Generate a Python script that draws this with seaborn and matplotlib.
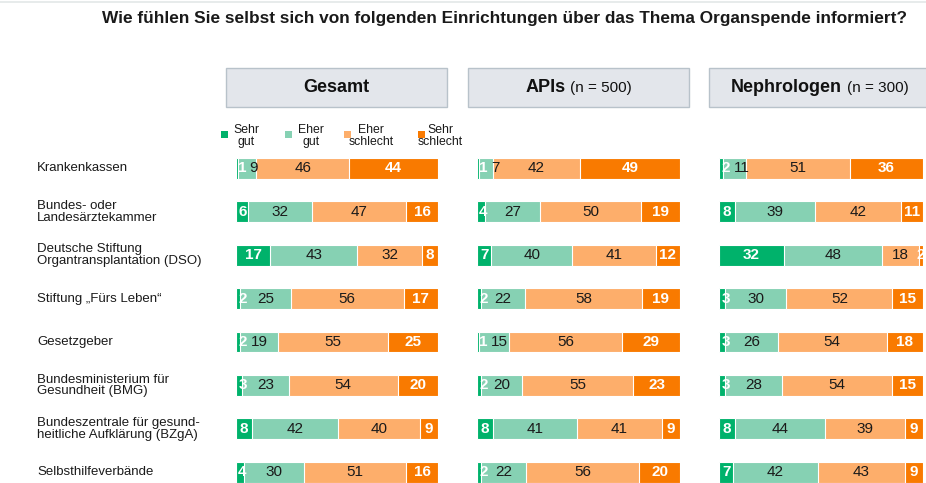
import numpy as np
import matplotlib
matplotlib.use("Agg")
import matplotlib.pyplot as plt
import matplotlib.transforms as mtransforms
from matplotlib.patches import Rectangle
from matplotlib.lines import Line2D
import seaborn as sns

# Daten
institutions = [
    "Krankenkassen",
    "Bundes- oder\nLandesärztekammer",
    "Deutsche Stiftung\nOrgantransplantation (DSO)",
    "Stiftung \u201eFürs Leben\u201c",
    "Gesetzgeber",
    "Bundesministerium für\nGesundheit (BMG)",
    "Bundeszentrale für gesund-\nheitliche Aufklärung (BZgA)",
    "Selbsthilfeverbände",
]
categories = ["Sehr\ngut", "Eher\ngut", "Eher\nschlecht", "Sehr\nschlecht"]

gesamt_sehr_gut = [1, 6, 17, 2, 2, 3, 8, 4]
gesamt_eher_gut = [9, 32, 43, 25, 19, 23, 42, 30]
gesamt_eher_schlecht = [46, 47, 32, 56, 55, 54, 40, 51]
gesamt_sehr_schlecht = [44, 16, 8, 17, 25, 20, 9, 16]

apis_sehr_gut = [1, 4, 7, 2, 1, 2, 8, 2]
apis_eher_gut = [7, 27, 40, 22, 15, 20, 41, 22]
apis_eher_schlecht = [42, 50, 41, 58, 56, 55, 41, 56]
apis_sehr_schlecht = [49, 19, 12, 19, 29, 23, 9, 20]

neph_sehr_gut = [2, 8, 32, 3, 3, 3, 8, 7]
neph_eher_gut = [11, 39, 48, 30, 26, 28, 44, 42]
neph_eher_schlecht = [51, 42, 18, 52, 54, 54, 39, 43]
neph_sehr_schlecht = [36, 11, 2, 15, 18, 15, 9, 9]

panels = [
    ("Gesamt", "", [gesamt_sehr_gut, gesamt_eher_gut, gesamt_eher_schlecht, gesamt_sehr_schlecht]),
    ("APIs", "(n = 500)", [apis_sehr_gut, apis_eher_gut, apis_eher_schlecht, apis_sehr_schlecht]),
    ("Nephrologen", "(n = 300)", [neph_sehr_gut, neph_eher_gut, neph_eher_schlecht, neph_sehr_schlecht]),
]

colors = ["#00B26B", "#86D1B3", "#FDAE6B", "#F97A00"]

sns.set_theme(style="white")
plt.rcParams['font.family'] = ['Liberation Sans', 'DejaVu Sans']

W, H = 926, 483
fig = plt.figure(figsize=(W / 100, H / 100), dpi=100)


def fx(px):
    return px / W


def fy(py):
    return 1 - py / H


# Titel
fig.text(fx(907), fy(19), "Wie fühlen Sie selbst sich von folgenden Einrichtungen über das Thema Organspende informiert?",
         ha="right", va="center", fontsize=12.4, fontweight="bold", color="#1a1a1a")
fig.add_artist(Line2D([0, 1], [fy(2), fy(2)], color="#e3e8e8", lw=1.2))

# Kopfzeilen
boxes = [(226, 447), (468, 689), (709, 940)]
renderer = fig.canvas.get_renderer()
for (bold, normal, _), (x0, x1) in zip(panels, boxes):
    fig.add_artist(Rectangle((fx(x0), fy(107)), fx(x1 - x0), 39 / H,
                             facecolor="#E3E6EB", edgecolor="#B8C2CA", lw=1))
    cx = (x0 + x1) / 2 if x1 < W else x0 + (689 - 468) / 2
    tb = fig.text(0, fy(88), bold, fontsize=13, fontweight="bold", va="center", ha="left", color="#111111")
    parts = [tb]
    if normal:
        tn = fig.text(0, fy(88), normal, fontsize=11, va="center", ha="left", color="#111111")
        parts.append(tn)
    widths = [p.get_window_extent(renderer).width for p in parts]
    gap = 5 if normal else 0
    total = sum(widths) + gap
    start = cx - total / 2
    tb.set_x(fx(start))
    if normal:
        parts[1].set_x(fx(start + widths[0] + gap))

# Legende
leg_sq = [221, 285, 344, 418]
leg_txt = [246, 311, 371, 440]
for c, sx, tx, lab in zip(colors, leg_sq, leg_txt, categories):
    fig.add_artist(Rectangle((fx(sx), fy(138)), fx(7), 7 / H, facecolor=c, edgecolor="none"))
    fig.text(fx(tx), fy(136), lab, ha="center", va="center", fontsize=8.8,
             linespacing=0.95, multialignment="center", color="#1a1a1a")

# Balken
axes_pos = [(236, 202), (477, 203), (719, 204)]
top_px = 146.8
digit_w = 4.2  # Breite einer Ziffer in Datenunits

for (bold, normal, series), (ax_x, ax_w) in zip(panels, axes_pos):
    ax = fig.add_axes([fx(ax_x), 0, fx(ax_w), (H - top_px) / H])
    vals = np.array(series, dtype=float).T
    widths = vals / vals.sum(axis=1, keepdims=True) * 100
    cum = widths.cumsum(axis=1)
    for k in reversed(range(4)):
        sns.barplot(x=cum[:, k], y=institutions, color=colors[k], orient="h",
                    width=0.48, saturation=1, edgecolor="white", linewidth=0.8, ax=ax)
    ax.set_xlim(0, 100)
    ax.set_ylim(7.25, -0.5)
    ax.axis("off")

    for i in range(len(institutions)):
        prev_right = None
        for k in range(4):
            v = int(vals[i, k])
            center = cum[i, k] - widths[i, k] / 2
            half = len(str(v)) * digit_w / 2
            x = center
            if k == 0:
                x = max(center, 3.2)
            elif k == 1 and prev_right is not None:
                x = max(center, prev_right + 1.5 + half)
            if k == 0:
                prev_right = x + half
            white = k in (0, 3)
            ax.text(x, i, str(v), ha="center", va="center", fontsize=11,
                    fontweight="bold" if white else "normal",
                    color="white" if white else "#1a1a1a", zorder=5, clip_on=True)

    if ax_x == 236:
        trans = mtransforms.blended_transform_factory(fig.transFigure, ax.transData)
        for i, name in enumerate(institutions):
            ax.text(fx(37), i, name, transform=trans, ha="left", va="center",
                    fontsize=9.5, linespacing=0.95, color="#1a1a1a", clip_on=False)

fig.savefig("out.png", dpi=100)
